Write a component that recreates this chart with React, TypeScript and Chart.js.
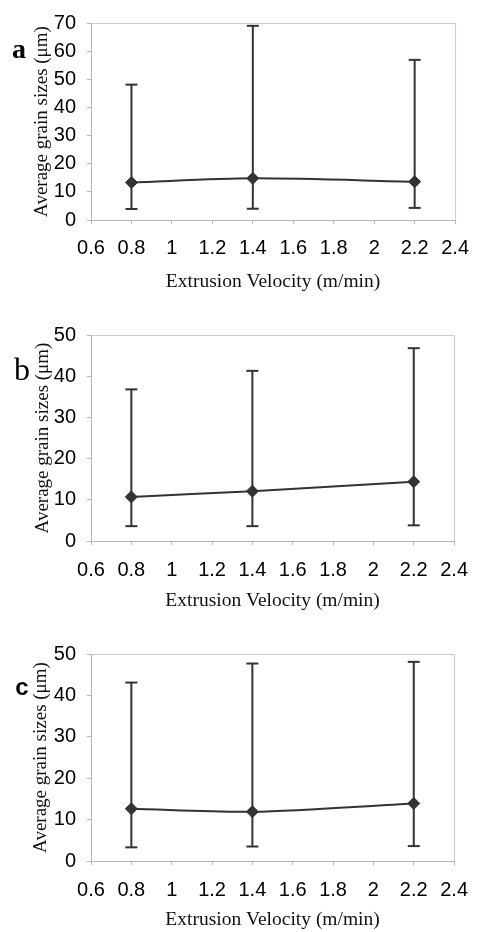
import React, { useEffect, useRef } from 'react';
import { Chart, registerables } from 'chart.js';
Chart.register(...registerables);

// ---- data ----
const velocities = [0.8, 1.4, 2.2];

const meanA = [13.3, 14.8, 13.6];
const upperA = [48.1, 69.0, 56.9];
const lowerA = [3.9, 4.0, 4.3];

const meanB = [10.7, 12.1, 14.4];
const upperB = [36.8, 41.3, 46.8];
const lowerB = [3.6, 3.6, 3.8];

const meanC = [12.6, 11.9, 13.9];
const upperC = [43.1, 47.7, 48.1];
const lowerC = [3.3, 3.5, 3.6];

const xTickLabels = ['0.6', '0.8', '1', '1.2', '1.4', '1.6', '1.8', '2', '2.2', '2.4'];
const yTickLabelsA = ['0', '10', '20', '30', '40', '50', '60', '70'];
const yTickLabelsBC = ['0', '10', '20', '30', '40', '50'];

const xTitle = 'Extrusion Velocity (m/min)';
const yTitle = 'Average grain sizes (\u03bcm)';

const LINE = '#333333';
const AXIS = '#b5b5b5';
const SANS = "'Liberation Sans', Arial, sans-serif";
const SERIF = "'Liberation Serif', 'Times New Roman', serif";

const framePlugin = {
  id: 'frame',
  beforeDatasetsDraw(chart: any) {
    const { ctx, chartArea } = chart;
    const { left, top, right, bottom } = chartArea;
    ctx.save();
    ctx.strokeStyle = '#cccccc';
    ctx.lineWidth = 1;
    ctx.beginPath();
    ctx.moveTo(left, top + 0.5);
    ctx.lineTo(right + 0.5, top + 0.5);
    ctx.lineTo(right + 0.5, bottom);
    ctx.stroke();
    ctx.restore();
  },
};

type PanelProps = {
  top: number;
  height: number;
  letter: string;
  letterFont: string;
  letterX: number;
  letterY: number;
  mean: number[];
  upper: number[];
  lower: number[];
  yMax: number;
  yLabels: string[];
  area: { left: number; right: number; top: number; bottom: number };
  xTickPad: number;
  xTitlePad: number;
  yTitlePad: number;
};

function Panel(p: PanelProps) {
  const ref = useRef<HTMLCanvasElement | null>(null);
  useEffect(() => {
    if (!ref.current) return;
    const W = 481;
    const datasets: any[] = [
      {
        data: velocities.map((x, i) => ({ x, y: p.mean[i] })),
        showLine: true,
        borderColor: LINE,
        borderWidth: 2,
        tension: 0.3,
        pointStyle: 'rectRot',
        pointRadius: 6,
        pointBackgroundColor: LINE,
        pointBorderColor: LINE,
        pointBorderWidth: 1,
      },
    ];
    velocities.forEach((x, i) => {
      datasets.push({
        data: [
          { x, y: p.lower[i] },
          { x, y: p.upper[i] },
        ],
        showLine: true,
        borderColor: LINE,
        borderWidth: 2,
        pointStyle: 'line',
        pointRadius: 6,
        pointBorderWidth: 2,
        pointBorderColor: LINE,
      });
    });
    const chart = new Chart(ref.current, {
      type: 'scatter',
      data: { datasets },
      plugins: [framePlugin],
      options: {
        animation: false,
        responsive: false,
        devicePixelRatio: 1,
        events: [],
        layout: {
          padding: {
            left: 0,
            right: W - p.area.right,
            top: p.area.top,
            bottom: 0,
          },
        },
        plugins: { legend: { display: false }, tooltip: { enabled: false } },
        scales: {
          x: {
            type: 'linear',
            min: 0.6,
            max: 2.4,
            afterFit: (s: any) => {
              s.height = p.height - p.area.bottom;
            },
            afterBuildTicks: (s: any) => {
              s.ticks = xTickLabels.map((l) => ({ value: parseFloat(l) }));
            },
            ticks: {
              autoSkip: false,
              maxRotation: 0,
              padding: p.xTickPad,
              color: '#000',
              font: { family: SANS, size: 20 },
              callback: (v: any) => {
                const idx = Math.round((Number(v) - 0.6) / 0.2);
                return xTickLabels[idx] ?? '';
              },
            },
            grid: { drawOnChartArea: false, drawTicks: true, tickLength: 4, color: AXIS },
            border: { color: AXIS, width: 1 },
            title: {
              display: true,
              text: xTitle,
              color: '#111',
              font: { family: SERIF, size: 19.5 },
              padding: { top: 0, bottom: p.xTitlePad },
            },
          },
          y: {
            type: 'linear',
            min: 0,
            max: p.yMax,
            afterFit: (s: any) => {
              s.width = p.area.left;
            },
            afterBuildTicks: (s: any) => {
              s.ticks = p.yLabels.map((l) => ({ value: parseFloat(l) }));
            },
            ticks: {
              autoSkip: false,
              padding: 11,
              color: '#000',
              font: { family: SANS, size: 20 },
              callback: (v: any) => {
                const idx = p.yLabels.indexOf(String(v));
                return idx >= 0 ? p.yLabels[idx] : String(v);
              },
            },
            grid: { drawOnChartArea: false, drawTicks: true, tickLength: 4, color: AXIS },
            border: { color: AXIS, width: 1 },
            title: {
              display: true,
              text: yTitle,
              color: '#111',
              font: { family: SERIF, size: 19 },
              padding: { top: p.yTitlePad, bottom: 0 },
            },
          },
        },
      } as any,
    });
    return () => chart.destroy();
  }, []);

  return (
    <div style={{ position: 'absolute', left: 0, top: p.top, width: 481, height: p.height }}>
      <canvas ref={ref} width={481} height={p.height} style={{ display: 'block' }} />
      <div
        style={{
          position: 'absolute',
          left: p.letterX,
          top: p.letterY,
          transform: 'translate(-50%, -50%)',
          font: p.letterFont,
          color: '#000',
          lineHeight: 1,
        }}
      >
        {p.letter}
      </div>
    </div>
  );
}

export default function App() {
  return (
    <div style={{ position: 'absolute', left: 0, top: 0, width: 481, height: 932, background: '#fff' }}>
      <Panel
        top={0}
        height={310}
        letter="a"
        letterFont={`bold 28px ${SERIF}`}
        letterX={19}
        letterY={49}
        mean={meanA}
        upper={upperA}
        lower={lowerA}
        yMax={70}
        yLabels={yTickLabelsA}
        area={{ left: 91, right: 458, top: 15, bottom: 220 }}
        xTickPad={12}
        xTitlePad={16}
        yTitlePad={31}
      />
      <Panel
        top={310}
        height={310}
        letter="b"
        letterFont={`32px ${SERIF}`}
        letterX={22}
        letterY={59}
        mean={meanB}
        upper={upperB}
        lower={lowerB}
        yMax={50}
        yLabels={yTickLabelsBC}
        area={{ left: 91, right: 460, top: 25, bottom: 231 }}
        xTickPad={13}
        xTitlePad={7}
        yTitlePad={32}
      />
      <Panel
        top={620}
        height={312}
        letter="c"
        letterFont={`bold 24px ${SANS}`}
        letterX={22}
        letterY={67}
        mean={meanC}
        upper={upperC}
        lower={lowerC}
        yMax={50}
        yLabels={yTickLabelsBC}
        area={{ left: 91, right: 464, top: 34, bottom: 241 }}
        xTickPad={13}
        xTitlePad={0}
        yTitlePad={30}
      />
    </div>
  );
}
